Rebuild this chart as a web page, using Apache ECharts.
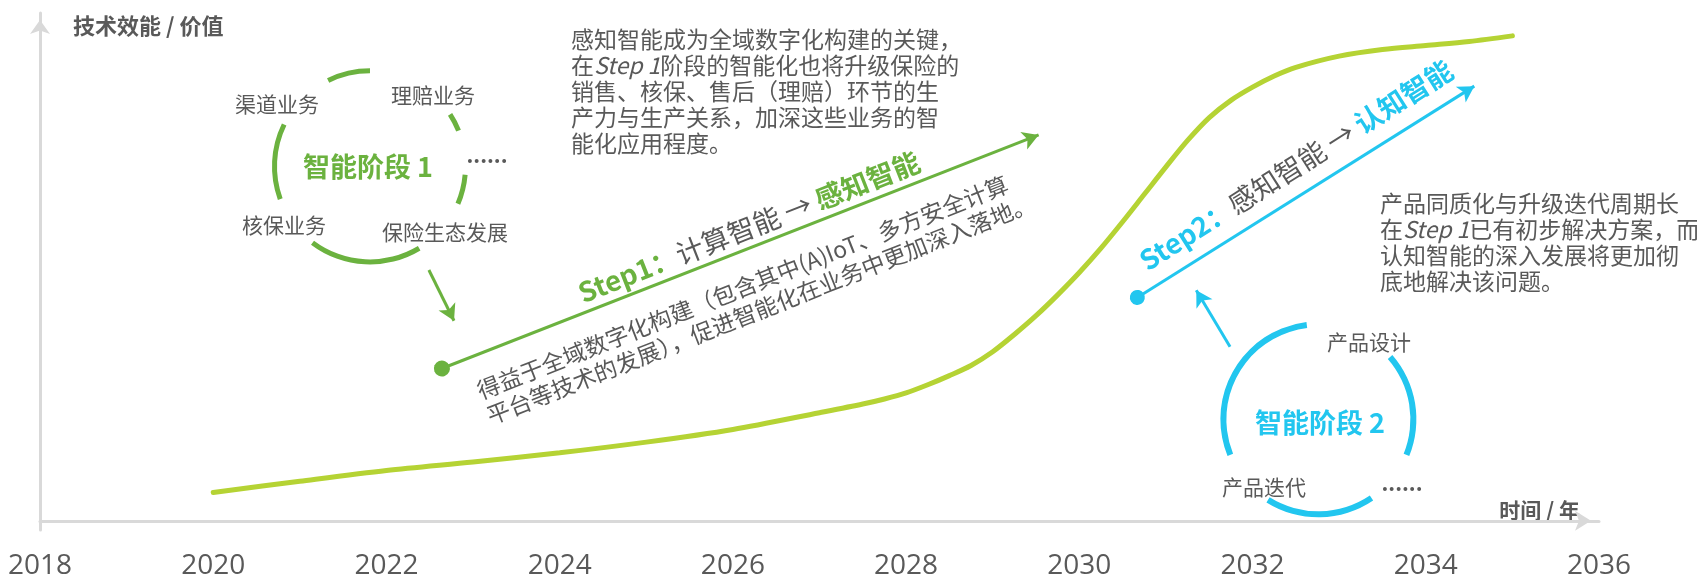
<!DOCTYPE html>
<html>
<head>
<meta charset="utf-8">
<script src="https://cdn.jsdelivr.net/npm/echarts@6/dist/echarts.min.js"></script>
<style>
html, body { margin: 0; padding: 0; background: #fff; }
#main { width: 1697px; height: 580px; }
</style>
</head>
<body>
<div id="main"></div>
<script>
// 곡선 데이터 (연도 / 기술효능 지수)
var curveYears = [2020, 2021, 2022, 2023, 2024, 2025, 2026, 2027, 2027.5, 2027.75, 2028, 2028.25,
                  2028.5, 2028.75, 2029, 2029.25, 2029.5, 2029.75, 2030, 2030.25, 2030.5, 2030.75,
                  2031, 2031.25, 2031.5, 2031.75, 2032, 2032.25, 2032.5, 2033, 2033.5, 2034, 2034.5, 2035];
var curveValues = [5.6, 7.8, 9.9, 11.6, 13.4, 15.5, 18.0, 21.3, 23.0, 24.0, 25.2, 26.8,
                   28.6, 30.6, 33.3, 36.7, 40.4, 44.5, 48.9, 53.7, 58.9, 64.3,
                   69.7, 74.9, 79.4, 82.8, 85.4, 87.6, 89.3, 91.5, 92.8, 93.6, 94.4, 95.5];

// 화살표 (시작점, 끝점)
var step1Line = [[2022.64, 30.0], [2029.53, 76.0]];
var step2Line = [[2030.67, 44.0], [2034.56, 85.6]];
var pointer1 = [[2022.49, 49.4], [2022.78, 39.4]];
var pointer2 = [[2031.74, 34.3], [2031.35, 45.4]];

// 원형 점선 (호 / 빈칸 각도 번갈아)
var ring1Center = [2021.81, 69.8];
var ring1Arcs = [26, 57, 11, 27, 18, 36, 68, 33, 46, 38];
var ring2Center = [2032.76, 20.0];
var ring2Arcs = [105, 56, 63, 34, 66, 36];

var gray = '#595959';
var green = '#6bb23f';
var cyan = '#22c6ef';
var lime = '#b5d334';
var axisGray = '#d9d9d9';
var cjk = "'Noto Sans CJK SC', sans-serif";

var chart = echarts.init(document.getElementById('main'));

function label(x, y, text, size, color, weight) {
  return {
    type: 'text', x: x, y: y, silent: true, z: 10,
    style: {
      text: text, fill: color, fontSize: size, fontFamily: cjk, fontWeight: weight || 'normal',
      align: 'center', verticalAlign: 'middle', textAlign: 'center', textVerticalAlign: 'middle'
    }
  };
}

function para(x, y, lines) {
  return {
    type: 'text', x: x, y: y, silent: true, z: 10,
    style: {
      text: lines.join('\n'), fill: gray, fontSize: 23, fontFamily: cjk, lineHeight: 26,
      align: 'left', verticalAlign: 'top', textAlign: 'left', textVerticalAlign: 'top',
      rich: {
        it: { fontStyle: 'italic', fontSize: 23, fontFamily: cjk, fill: gray, lineHeight: 26 }
      }
    }
  };
}

function stepLabel(x, y, deg, text, color) {
  return {
    type: 'text', x: x, y: y, rotation: deg * Math.PI / 180, silent: true, z: 10,
    style: {
      text: text, fontSize: 27.5, fontFamily: cjk, fill: gray,
      align: 'center', verticalAlign: 'middle', textAlign: 'center', textVerticalAlign: 'middle',
      rich: {
        b: { fontSize: 27.5, fontFamily: cjk, fontWeight: 'bold', fill: color },
        n: { fontSize: 27.5, fontFamily: cjk, fill: gray }
      }
    }
  };
}

function ring(id, arcs, start, color, radius) {
  return {
    id: id, type: 'pie', silent: true, animation: false,
    center: [0, 0], radius: radius, startAngle: start, clockwise: true,
    label: { show: false }, labelLine: { show: false },
    itemStyle: { borderWidth: 0 },
    emphasis: { disabled: true },
    data: arcs.map(function (v, i) {
      return { value: v, itemStyle: { color: i % 2 === 0 ? color : 'rgba(0,0,0,0)' } };
    })
  };
}

function arrows(lines, color, dotSize) {
  return {
    type: 'line', data: [], silent: true,
    markLine: {
      silent: true, animation: false,
      label: { show: false },
      emphasis: { disabled: true },
      lineStyle: { color: color, width: 3, type: 'solid' },
      data: lines.map(function (l) {
        return [
          { coord: l.pts[0], symbol: l.dot ? 'circle' : 'none', symbolSize: dotSize },
          { coord: l.pts[1], symbol: 'arrow', symbolSize: [14, 16] }
        ];
      })
    }
  };
}

var option = {
  animation: false,
  grid: { left: 40, right: 98, top: 13, bottom: 42 },
  xAxis: {
    type: 'value', min: 2018, max: 2036, interval: 2,
    name: '时间 / 年', nameLocation: 'end', nameGap: -19,
    nameTextStyle: {
      color: gray, fontSize: 21, fontWeight: 'bold', fontFamily: cjk,
      align: 'right', verticalAlign: 'bottom', padding: [0, 0, 0, 0]
    },
    axisLine: {
      show: true, onZero: true,
      symbol: ['none', 'arrow'], symbolSize: [15, 16], symbolOffset: [0, -8],
      lineStyle: { color: axisGray, width: 3 }
    },
    axisTick: { show: false },
    splitLine: { show: false },
    axisLabel: {
      color: gray, fontSize: 28, fontFamily: "'Open Sans', sans-serif", margin: 22,
      showMinLabel: true, showMaxLabel: true,
      formatter: function (v) { return String(v); }
    }
  },
  yAxis: {
    type: 'value', min: -1.8, max: 100,
    name: '技术效能 / 价值', nameLocation: 'end', nameGap: -13,
    nameTextStyle: {
      color: gray, fontSize: 22, fontWeight: 'bold', fontFamily: cjk,
      align: 'left', verticalAlign: 'middle', padding: [0, 0, 0, 33]
    },
    axisLine: {
      show: true, onZero: false,
      symbol: ['none', 'arrow'], symbolSize: [15, 14], symbolOffset: [0, -7],
      lineStyle: { color: axisGray, width: 3 }
    },
    axisTick: { show: false },
    axisLabel: { show: false },
    splitLine: { show: false }
  },
  series: [
    {
      type: 'line', smooth: 0.3, showSymbol: false, silent: true, z: 3,
      lineStyle: { color: lime, width: 5, cap: 'round' },
      data: curveYears.map(function (y, i) { return [y, curveValues[i]]; })
    },
    arrows([{ pts: step1Line, dot: true }, { pts: pointer1, dot: false }], green, 16),
    arrows([{ pts: step2Line, dot: true }, { pts: pointer2, dot: false }], cyan, 15),
    ring('ring1', ring1Arcs, 116, green, [93, 98]),
    ring('ring2', ring2Arcs, 202, cyan, [92, 98])
  ],
  graphic: [
    para(571, 26, [
      '感知智能成为全域数字化构建的关键，',
      '在{it|Step 1}阶段的智能化也将升级保险的',
      '销售、核保、售后（理赔）环节的生',
      '产力与生产关系，加深这些业务的智',
      '能化应用程度。'
    ]),
    para(1380, 190, [
      '产品同质化与升级迭代周期长',
      '在{it|Step 1}已有初步解决方案，而',
      '认知智能的深入发展将更加彻',
      '底地解决该问题。'
    ]),
    label(277, 104, '渠道业务', 21, gray),
    label(433, 95, '理赔业务', 21, gray),
    label(284, 225, '核保业务', 21, gray),
    label(445, 232, '保险生态发展', 21, gray),
    label(487, 155, '......', 21, gray, 'bold'),
    label(368, 167, '智能阶段 1', 27, green, 'bold'),
    label(1369, 342, '产品设计', 21, gray),
    label(1264, 487, '产品迭代', 21, gray),
    label(1402, 483, '......', 21, gray, 'bold'),
    label(1320, 423, '智能阶段 2', 27, cyan, 'bold'),
    stepLabel(749, 227, 21.5, '{b|Step1：}{n|计算智能 → }{b|感知智能}', green),
    stepLabel(1296, 165, 32.5, '{b|Step2：}{n|感知智能 → }{b|认知智能}', cyan),
    {
      type: 'text', x: 473, y: 379, rotation: 21.5 * Math.PI / 180, silent: true, z: 10,
      style: {
        text: '得益于全域数字化构建（包含其中(A)IoT、多方安全计算\n平台等技术的发展），促进智能化在业务中更加深入落地。',
        fill: gray, fontSize: 23, fontFamily: cjk, lineHeight: 27,
        align: 'left', verticalAlign: 'top', textAlign: 'left', textVerticalAlign: 'top'
      }
    }
  ]
};

chart.setOption(option);

// 원 중심을 축 좌표에서 픽셀로 변환
chart.setOption({
  series: [
    { id: 'ring1', center: chart.convertToPixel({ gridIndex: 0 }, ring1Center) },
    { id: 'ring2', center: chart.convertToPixel({ gridIndex: 0 }, ring2Center) }
  ]
});
</script>
</body>
</html>
